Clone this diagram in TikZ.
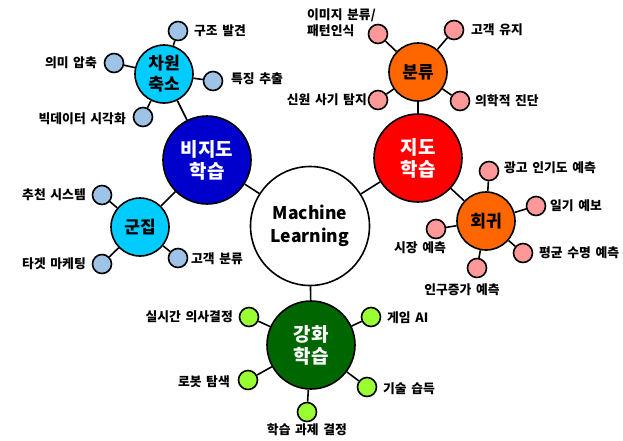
\documentclass[tikz,border=0pt]{standalone}
\usepackage{fontspec}
\setmainfont{Noto Sans CJK KR}[WordSpace=1.6]
\definecolor{udark}{HTML}{0000CC}
\definecolor{ucyan}{HTML}{00CCFF}
\definecolor{uleaf}{HTML}{9DC3E6}
\definecolor{sred}{HTML}{FF0000}
\definecolor{sorange}{HTML}{FF6600}
\definecolor{sleaf}{HTML}{FF9999}
\definecolor{rgreen}{HTML}{006600}
\definecolor{rleaf}{HTML}{99FF33}
\tikzset{
  base/.style={circle,draw=black,line width=1.6pt,inner sep=0pt,align=center,font=\bfseries},
  ml/.style={base,fill=white,minimum size=119pt,font=\fontsize{17.5}{23}\selectfont\bfseries},
  top/.style={base,minimum size=88pt,text=white,font=\fontsize{19}{22}\selectfont\bfseries},
  mid/.style={base,minimum size=58pt,font=\fontsize{17}{21}\selectfont\bfseries},
  leaf/.style={base,minimum size=19pt},
  lbl/.style={inner sep=0pt,align=left,font=\fontsize{12.8}{16}\selectfont\bfseries},
  conn/.style={line width=1.6pt,draw=black}
}
\begin{document}
\begin{tikzpicture}[x=1pt,y=-1pt]
\useasboundingbox (0,0) rectangle (623,440);
% main nodes
\node[ml] (ml) at (310,226) {Machine\\Learning};
\node[top,fill=udark] (un) at (207,160) {비지도\\학습};
\node[top,fill=sred] (su) at (418,158) {지도\\학습};
\node[top,fill=rgreen] (re) at (311,345) {강화\\학습};
\node[mid,fill=ucyan] (dr) at (164,74) {차원\\축소};
\node[mid,fill=ucyan] (cl) at (140,227) {군집};
\node[mid,fill=sorange] (cf) at (418,72) {분류};
\node[mid,fill=sorange] (rg) at (486,221) {회귀};
% leaves unsupervised
\node[leaf,fill=uleaf] (d1) at (178,31) {};
\node[leaf,fill=uleaf] (d2) at (114,63) {};
\node[leaf,fill=uleaf] (d3) at (213,81) {};
\node[leaf,fill=uleaf] (d4) at (143,117) {};
\node[leaf,fill=uleaf] (c1) at (102,195) {};
\node[leaf,fill=uleaf] (c2) at (102,264) {};
\node[leaf,fill=uleaf] (c3) at (178,258) {};
% leaves supervised
\node[leaf,fill=sleaf] (f1) at (378,34) {};
\node[leaf,fill=sleaf] (f2) at (454,30) {};
\node[leaf,fill=sleaf] (f3) at (378,100) {};
\node[leaf,fill=sleaf] (f4) at (460,101) {};
\node[leaf,fill=sleaf] (r1) at (489,171) {};
\node[leaf,fill=sleaf] (r2) at (536,206) {};
\node[leaf,fill=sleaf] (r3) at (436,229) {};
\node[leaf,fill=sleaf] (r4) at (523,253) {};
\node[leaf,fill=sleaf] (r5) at (477,268) {};
% leaves reinforcement
\node[leaf,fill=rleaf] (g1) at (249,317) {};
\node[leaf,fill=rleaf] (g2) at (371,317) {};
\node[leaf,fill=rleaf] (g3) at (248,380) {};
\node[leaf,fill=rleaf] (g4) at (367,387) {};
\node[leaf,fill=rleaf] (g5) at (307,412) {};
% connectors
\draw[conn] (ml) -- (un);
\draw[conn] (ml) -- (su);
\draw[conn] (ml) -- (re);
\draw[conn] (un) -- (dr);
\draw[conn] (un) -- (cl);
\draw[conn] (su) -- (cf);
\draw[conn] (su) -- (rg);
\foreach \l in {d1,d2,d3,d4} \draw[conn] (dr) -- (\l);
\foreach \l in {c1,c2,c3} \draw[conn] (cl) -- (\l);
\foreach \l in {f1,f2,f3,f4} \draw[conn] (cf) -- (\l);
\foreach \l in {r1,r2,r3,r4,r5} \draw[conn] (rg) -- (\l);
\foreach \l in {g1,g2,g3,g4,g5} \draw[conn] (re) -- (\l);
% labels
\node[lbl,anchor=west] (ld1) at (194,31) {구조 발견};
\node[lbl,anchor=east] (ld2) at (97,63) {의미 압축};
\node[lbl,anchor=west] (ld3) at (231,79) {특징 추출};
\node[lbl,anchor=east] (ld4) at (126,119) {빅데이터 시각화};
\node[lbl,anchor=east] (lc1) at (86,195) {추천 시스템};
\node[lbl,anchor=east] (lc2) at (86,264) {타겟 마케팅};
\node[lbl,anchor=west] (lc3) at (191,259) {고객 분류};
\node[lbl,anchor=west] (lf1) at (307,23) {이미지 분류/\\패턴인식};
\node[lbl,anchor=west] (lf2) at (471,30) {고객 유지};
\node[lbl,anchor=east] (lf3) at (367,100) {신원 사기 탐지};
\node[lbl,anchor=west] (lf4) at (475,101) {의학적 진단};
\node[lbl,anchor=west] (lr1) at (504,168) {광고 인기도 예측};
\node[lbl,anchor=west] (lr2) at (550,206) {일기 예보};
\node[lbl] (lr3) at (420,248) {시장 예측};
\node[lbl,anchor=west] (lr4) at (539,253) {평균 수명 예측};
\node[lbl] (lr5) at (462,290) {인구증가 예측};
\node[lbl,anchor=east] (lg1) at (233,317) {실시간 의사결정};
\node[lbl,anchor=west] (lg2) at (387,318) {게임 AI};
\node[lbl,anchor=east] (lg3) at (230,382) {로봇 탐색};
\node[lbl,anchor=west] (lg4) at (383,389) {기술 습득};
\node[lbl] (lg5) at (307,430) {학습 과제 결정};
\end{tikzpicture}
\end{document}
